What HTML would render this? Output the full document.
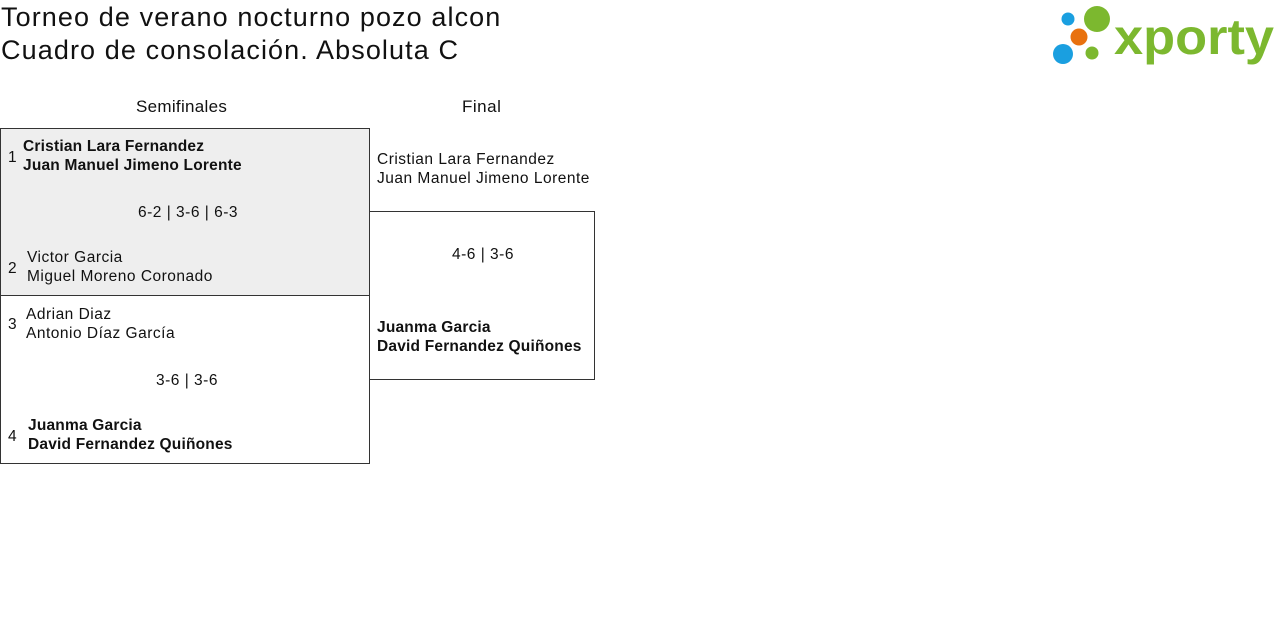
<!DOCTYPE html>
<html><head><meta charset="utf-8"><style>
body{margin:0;width:1280px;height:628px;background:#fff;font-family:"Liberation Sans",sans-serif;color:#111;position:relative;overflow:hidden}
.a{position:absolute;white-space:nowrap}
.t{font-size:27px;line-height:33px;letter-spacing:1.1px;font-weight:500}
.n{font-size:15.5px;line-height:19px;letter-spacing:0.5px}
.b{font-weight:bold;letter-spacing:0.2px}
.box{position:absolute;border:1px solid #333;box-sizing:border-box}
</style></head><body>
<div class="a t" style="left:1px;top:1px">Torneo de verano nocturno pozo alcon<br>Cuadro de consolación. Absoluta C</div>
<svg class="a" style="left:1050px;top:4px" width="228" height="64">
<circle cx="18" cy="15" r="6.5" fill="#1a9fe0"/><circle cx="47" cy="15" r="13" fill="#7cb82f"/>
<circle cx="29" cy="33" r="8.5" fill="#e8710f"/><circle cx="13" cy="50" r="10" fill="#1a9fe0"/>
<circle cx="42" cy="49" r="6.5" fill="#7cb82f"/>
<text x="64" y="50" font-family="Liberation Sans" font-weight="bold" font-size="50" fill="#7cb82f" textLength="160" lengthAdjust="spacingAndGlyphs">xporty</text>
</svg>
<div class="a n" style="left:136px;top:97px;font-size:17px;letter-spacing:0.3px">Semifinales</div>
<div class="a n" style="left:462px;top:97px;font-size:17px">Final</div>
<div class="box" style="left:0;top:128px;width:370px;height:168px;background:#eee"></div>
<div class="box" style="left:0;top:295px;width:370px;height:169px"></div>
<div class="box" style="left:369px;top:211px;width:226px;height:169px"></div>
<div class="a n" style="left:8px;top:148px">1</div>
<div class="a n b" style="left:23px;top:137px">Cristian Lara Fernandez<br>Juan Manuel Jimeno Lorente</div>
<div class="a n" style="left:138px;top:203px">6-2 | 3-6 | 6-3</div>
<div class="a n" style="left:8px;top:259px">2</div>
<div class="a n" style="left:27px;top:248px">Victor Garcia<br>Miguel Moreno Coronado</div>
<div class="a n" style="left:8px;top:315px">3</div>
<div class="a n" style="left:26px;top:305px">Adrian Diaz<br>Antonio Díaz García</div>
<div class="a n" style="left:156px;top:371px">3-6 | 3-6</div>
<div class="a n" style="left:8px;top:427px">4</div>
<div class="a n b" style="left:28px;top:416px">Juanma Garcia<br>David Fernandez Quiñones</div>
<div class="a n" style="left:377px;top:150px">Cristian Lara Fernandez<br>Juan Manuel Jimeno Lorente</div>
<div class="a n" style="left:452px;top:245px">4-6 | 3-6</div>
<div class="a n b" style="left:377px;top:318px">Juanma Garcia<br>David Fernandez Quiñones</div>
</body></html>
